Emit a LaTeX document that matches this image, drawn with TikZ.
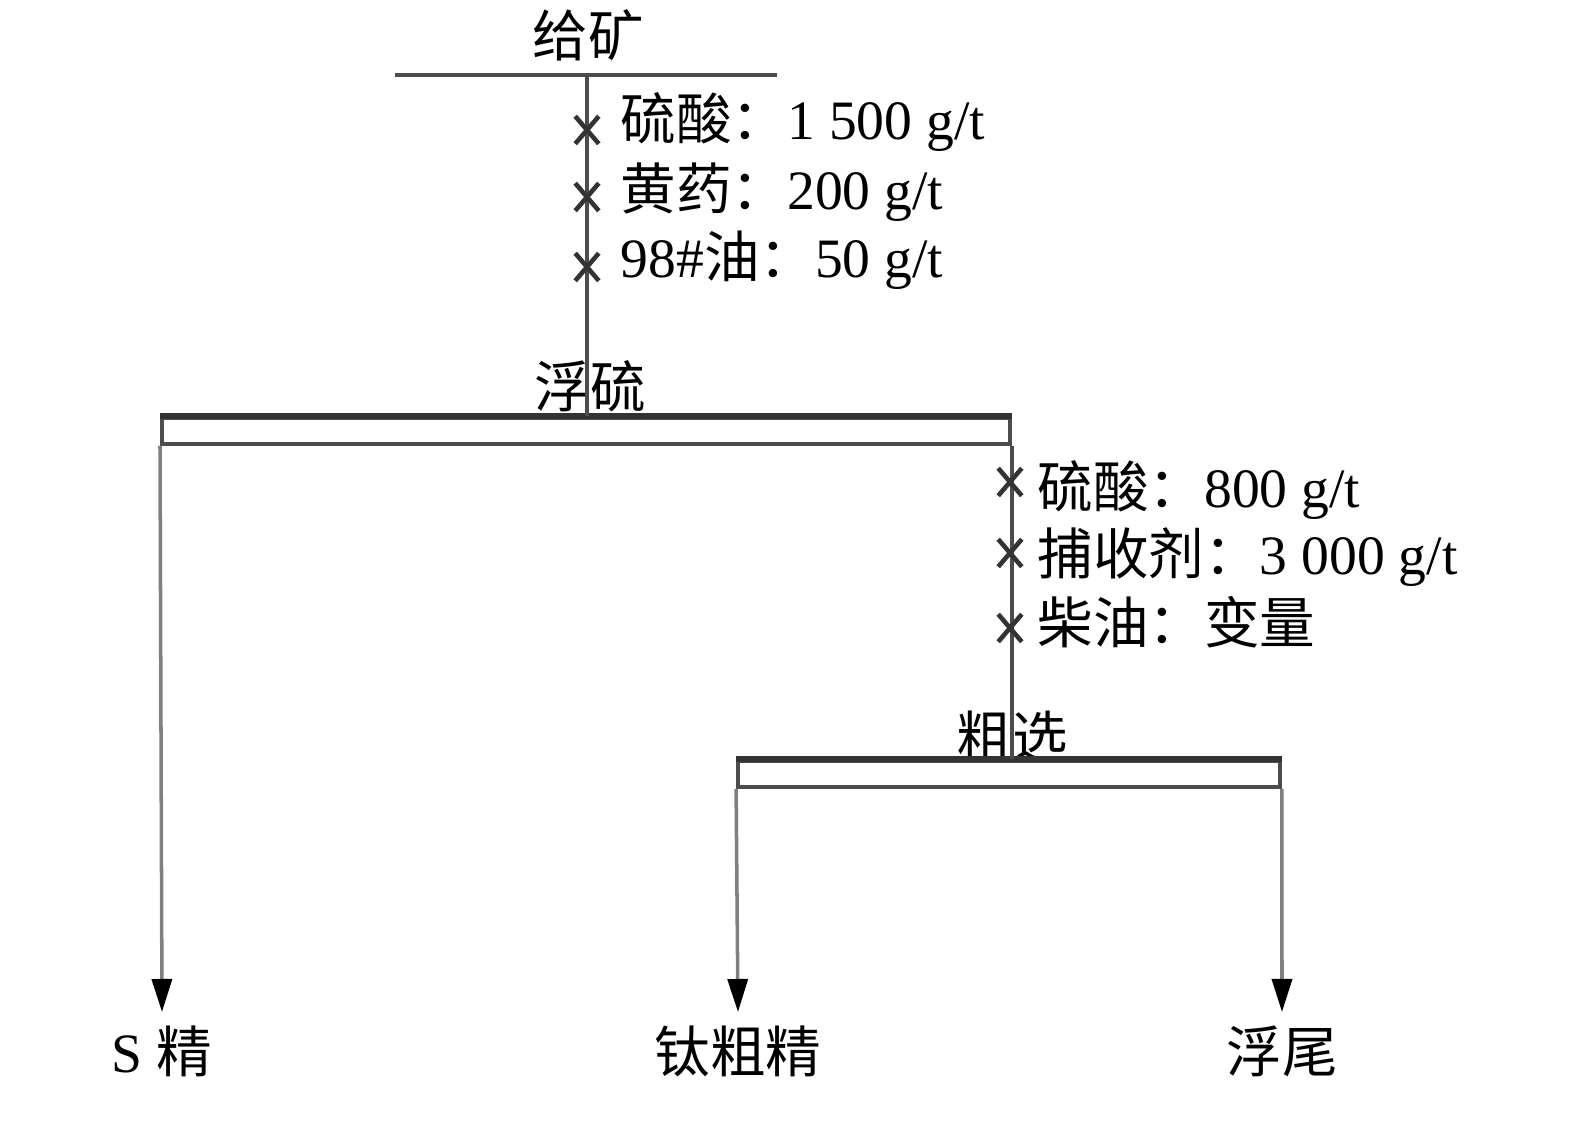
\documentclass[tikz,border=0pt]{standalone}
\usepackage{fontspec}
\setmainfont{Liberation Serif}
\newfontfamily\cjk{Noto Sans CJK SC}
\usetikzlibrary{arrows.meta, shapes.misc}

\tikzset{
  pipe/.style={draw=black!70, line width=1pt},
  flow/.style={draw=black!50, line width=1pt, -{Triangle[width=2mm, length=3.3mm, color=black]}},
  cell/.style={draw=black!70, line width=1pt, inner sep=0pt, minimum height=0.26cm},
  dose/.style={cross out, draw=black!80, line width=1.3pt, inner sep=0pt, minimum width=0.19cm, minimum height=0.23cm},
  reagent/.style={anchor=west, inner sep=0pt, font=\fontsize{15.8}{19}\selectfont},
  stage/.style={inner sep=0pt, font=\fontsize{15.8}{19}\selectfont\cjk},
  product/.style={anchor=north, inner sep=0pt, text height=0.6cm, text depth=0.12cm, font=\fontsize{15.8}{19}\selectfont}
}

\begin{document}
\begin{tikzpicture}[x=0.01cm, y=-0.01cm]
      \useasboundingbox (0,0) rectangle (1575,1122);

      % feed
      \node[stage] (feedtxt) at (588,35) {给矿};
      \coordinate (fl) at (395,75);
      \coordinate (fr) at (777,75);
      \coordinate (feed) at (587,75);
      \draw[pipe, line width=1.2pt] (fl) -- (fr);

      % sulphur flotation
      \node[stage] (sulftxt) at (590,386) {浮硫};
      \node[cell, minimum width=8.48cm] (sulf) at (586,431) {};
      \draw[draw=black!80, line width=1.7pt] (sulf.north west) -- (sulf.north east);
      \draw[pipe] (feed) -- (feed |- sulf.north);

      \node[dose] (x1) at (587,130) {};
      \node[dose] (x2) at (587,197) {};
      \node[dose] (x3) at (587,267) {};
      \node[reagent] (r1) at (620,122) {{\cjk 硫酸：}1 500 g/t};
      \node[reagent] (r2) at (620,192) {{\cjk 黄药：}200 g/t};
      \node[reagent] (r3) at (620,260) {98\#{\cjk 油：}50 g/t};

      % rougher
      \node[stage] (roughtxt) at (1012,736) {粗选};
      \node[cell, minimum width=5.42cm] (rough) at (1009,774) {};
      \draw[draw=black!80, line width=1.7pt] (rough.north west) -- (rough.north east);
      \draw[pipe] (sulf.south east) -- (sulf.south east |- rough.north);

      \node[dose] (x4) at (1010,482) {};
      \node[dose] (x5) at (1010,553) {};
      \node[dose] (x6) at (1010,628) {};
      \node[reagent] (r4) at (1037,490) {{\cjk 硫酸：}800 g/t};
      \node[reagent] (r5) at (1037,557) {{\cjk 捕收剂：}3 000 g/t};
      \node[reagent] (r6) at (1037,622) {\cjk 柴油：变量};

      % products
      \node[product] (sconc) at (162,1012) {S {\cjk 精}};
      \node[product] (ticonc) at (738,1012) {\cjk 钛粗精};
      \node[product] (tail) at (1282,1012) {\cjk 浮尾};

      \draw[flow] (sulf.south west) -- (sconc.north);
      \draw[flow] (rough.south west) -- (ticonc.north);
      \draw[flow] (rough.south east) -- (tail.north);
    \end{tikzpicture}
\end{document}
